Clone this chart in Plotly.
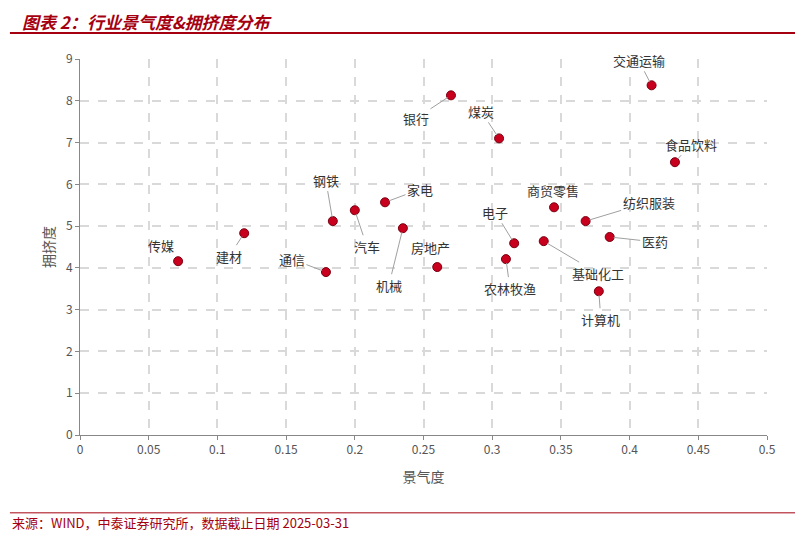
import plotly.graph_objects as go

names = ["传媒","建材","通信","钢铁","汽车","家电","机械","房地产","银行","煤炭","电子","农林牧渔","基础化工","商贸零售","纺织服装","医药","计算机","交通运输","食品饮料"]
jingqi = [0.0714,0.1195,0.179,0.184,0.200,0.222,0.235,0.260,0.270,0.305,0.316,0.310,0.3375,0.345,0.368,0.3855,0.3776,0.416,0.433]
yongji = [4.16,4.83,3.90,5.12,5.38,5.57,4.95,4.02,8.13,7.10,4.59,4.21,4.64,5.45,5.12,4.74,3.44,8.37,6.53]

# label offsets (px) and whether a leader line is drawn
offsets = {"传媒":(-17,-16,False),"建材":(-15,23,True),"通信":(-34,-13,True),"钢铁":(-7,-41,True),
           "汽车":(12,36,True),"家电":(35,-13,True),"机械":(-14,57,True),"房地产":(-7,-20,False),
           "银行":(-35,23,True),"煤炭":(-18,-27,True),"电子":(-19,-31,True),"农林牧渔":(4,29,True),
           "基础化工":(54,32,True),"商贸零售":(-1,-17,False),"纺织服装":(63,-19,True),"医药":(45,5,True),
           "计算机":(2,28,True),"交通运输":(-13,-25,True),"食品饮料":(16,-18,True)}

font = "Noto Sans CJK SC"
fig = go.Figure(go.Scatter(x=jingqi, y=yongji, mode="markers",
    marker=dict(size=9, color="#c8001e", line=dict(color="#7a0010", width=1)), hoverinfo="text", text=names))

for n, x, y in zip(names, jingqi, yongji):
    dx, dy, line = offsets[n]
    fig.add_annotation(x=x, y=y, text=n, ax=dx, ay=dy, showarrow=True, arrowhead=0,
        arrowwidth=1, arrowcolor="#a0a0a0" if line else "rgba(0,0,0,0)", standoff=4,
        xanchor="center", yanchor="middle", font=dict(family=font, size=13, color="#333"))

fig.add_annotation(xref="paper", yref="paper", x=-0.087, y=1.10, xanchor="left", yanchor="middle",
    text="<b><i>图表 2：行业景气度&拥挤度分布</i></b>", showarrow=False, font=dict(family=font, size=17, color="#a50010"))
fig.add_annotation(xref="paper", yref="paper", x=-0.102, y=-0.234, xanchor="left", yanchor="middle",
    text="来源：WIND，中泰证券研究所，数据截止日期 2025-03-31", showarrow=False, font=dict(family=font, size=13, color="#a50010"))
fig.add_shape(type="line", xref="paper", yref="paper", x0=-0.102, x1=1.042, y0=1.069, y1=1.069, line=dict(color="#a50010", width=2))
fig.add_shape(type="line", xref="paper", yref="paper", x0=-0.102, x1=1.042, y0=-0.207, y1=-0.207, line=dict(color="#a50010", width=1))

axis = dict(showgrid=True, gridcolor="#d9d9d9", griddash="dash", gridwidth=1.5, zeroline=False,
            showline=True, linecolor="#888", ticks="outside", tickcolor="#888", ticklen=4,
            tickfont=dict(family=font, size=12, color="#555"))
fig.update_xaxes(range=[0,0.5], dtick=0.05, title=dict(text="景气度", font=dict(family=font, size=14, color="#555")), **axis)
fig.update_yaxes(range=[0,9], dtick=1, title=dict(text="拥挤度", font=dict(family=font, size=14, color="#555"), standoff=8), **axis)
fig.update_layout(width=803, height=536, margin=dict(l=72, r=44, t=51, b=109),
    plot_bgcolor="white", paper_bgcolor="white", showlegend=False)
fig.write_html("out.html")
